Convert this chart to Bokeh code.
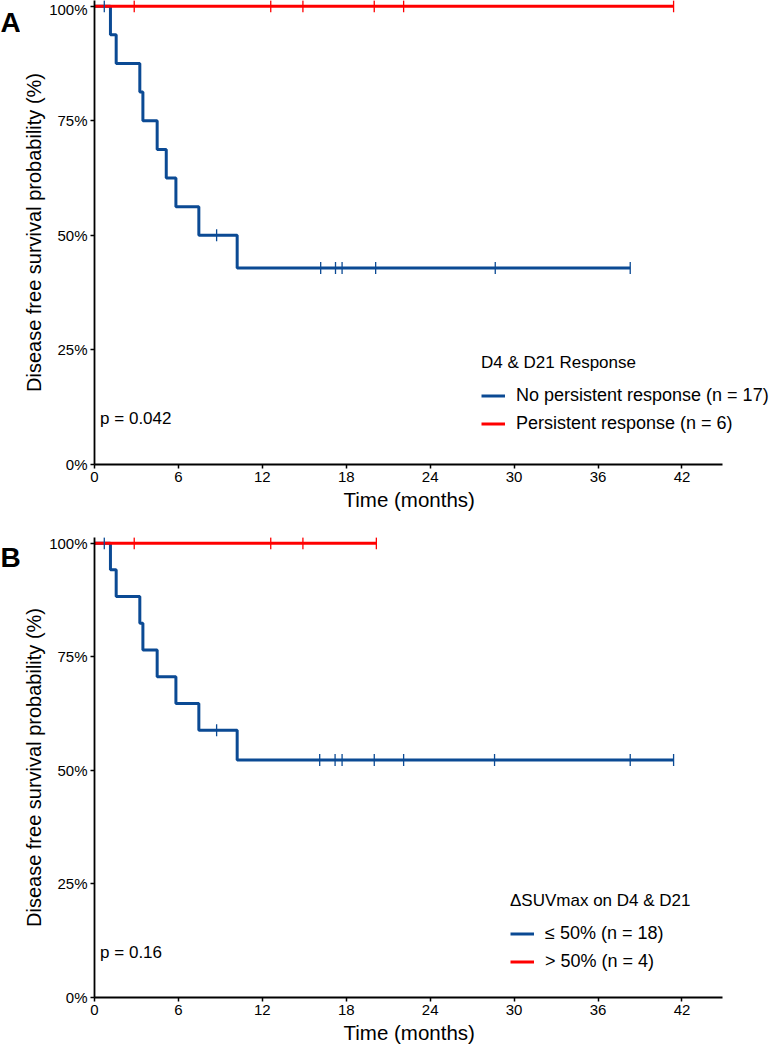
from bokeh.plotting import figure
from bokeh.layouts import column, row
from bokeh.models import (FixedTicker, Legend, LegendItem, Label, Range1d, Title)
from bokeh.embed import file_html
from bokeh.resources import INLINE

# ---------------- data ----------------
x_ticks = [0, 6, 12, 18, 24, 30, 36, 42]
y_ticks = [0, 0.25, 0.5, 0.75, 1.0]
y_tick_labels = ["0%", "25%", "50%", "75%", "100%"]

# Panel A: D4 & D21 Response
a_blue_label = "No persistent response (n = 17)"
a_blue_t = [0, 1.14, 1.55, 3.24, 3.46, 4.48, 5.13, 5.82, 7.46, 10.2, 38.3]
a_blue_s = [1.0, 0.9375, 0.875, 0.8125, 0.75, 0.6875, 0.625, 0.5625, 0.5, 0.4286, 0.4286]
a_blue_cens_t = [0.7, 8.73, 16.17, 17.23, 17.7, 20.1, 28.65, 38.3]
a_blue_cens_s = [1.0, 0.5, 0.4286, 0.4286, 0.4286, 0.4286, 0.4286, 0.4286]

a_red_label = "Persistent response (n = 6)"
a_red_t = [0, 41.4]
a_red_s = [1.0, 1.0]
a_red_cens_t = [2.84, 12.6, 14.9, 20.0, 22.1, 41.4]
a_red_cens_s = [1.0, 1.0, 1.0, 1.0, 1.0, 1.0]
a_title = "D4 & D21 Response"
a_p = "p = 0.042"

# Panel B: ΔSUVmax on D4 & D21
b_blue_label = "≤ 50% (n = 18)"
b_blue_t = [0, 1.14, 1.55, 3.24, 3.46, 4.48, 5.82, 7.46, 10.2, 41.4]
b_blue_s = [1.0, 0.9412, 0.8824, 0.8235, 0.7647, 0.7059, 0.6471, 0.5882, 0.5229, 0.5229]
b_blue_cens_t = [0.7, 8.73, 16.1, 17.2, 17.7, 20.0, 22.1, 28.6, 38.3, 41.4]
b_blue_cens_s = [1.0, 0.5882, 0.5229, 0.5229, 0.5229, 0.5229, 0.5229, 0.5229, 0.5229, 0.5229]

b_red_label = "> 50% (n = 4)"
b_red_t = [0, 20.15]
b_red_s = [1.0, 1.0]
b_red_cens_t = [2.84, 12.6, 14.9, 20.15]
b_red_cens_s = [1.0, 1.0, 1.0, 1.0]
b_title = "ΔSUVmax on D4 & D21"
b_p = "p = 0.16"

x_axis_title = "Time (months)"
y_axis_title = "Disease free survival probability (%)"

BLUE = "#0B4A94"
RED = "#FF0000"
FONT = "Liberation Sans"

LETTER_W = 20
FRAME_W = 677
X_AXIS_END = 44.9      # months at the end of the drawn x axis line
X_VIEW_END = 48.4      # frame continues to the page edge (room for legend)
XTITLE_OFFSET = 249    # px from frame left to the start of the x title


def letter_fig(letter, height, center_from_top):
    f = figure(width=LETTER_W, height=height, x_range=Range1d(0, LETTER_W),
               y_range=Range1d(0, height), output_backend="svg",
               toolbar_location=None, x_axis_location=None,
               y_axis_location=None, min_border=0)
    f.outline_line_color = None
    f.xgrid.visible = False
    f.ygrid.visible = False
    f.add_layout(Label(x=0, y=height - center_from_top, text=letter,
                       text_font=FONT, text_font_size="28px",
                       text_font_style="bold", text_baseline="middle",
                       text_color="black"))
    return f


def make_panel(blue, red, leg_title, ptxt, frame_h, border_top, height,
               leg_loc):
    (bt, bs, bct, bcs, blab) = blue
    (rt, rs, rct, rcs, rlab) = red
    p = figure(frame_width=FRAME_W, frame_height=frame_h,
               x_range=Range1d(0, X_VIEW_END), y_range=Range1d(0, 1.0124),
               output_backend="svg", toolbar_location=None,
               min_border_left=94 - LETTER_W, min_border_right=0,
               min_border_top=border_top,
               min_border_bottom=height - border_top - frame_h)
    p.outline_line_color = None
    p.background_fill_color = "white"
    p.border_fill_color = "white"
    p.xgrid.visible = False
    p.ygrid.visible = False

    for ax in (p.xaxis[0], p.yaxis[0]):
        ax.axis_line_color = "black"
        ax.axis_line_width = 1.8
        ax.major_tick_line_color = "black"
        ax.major_tick_line_width = 1.5
        ax.major_tick_out = 4
        ax.major_tick_in = 0
        ax.minor_tick_line_color = None
        ax.major_label_text_font = FONT
        ax.major_label_text_font_size = "15px"
        ax.major_label_text_color = "black"
        ax.axis_label_text_font = FONT
        ax.axis_label_text_font_size = "20px"
        ax.axis_label_text_font_style = "normal"
        ax.axis_label_text_color = "black"

    p.xaxis.bounds = (0, X_AXIS_END)
    p.xaxis.ticker = FixedTicker(ticks=x_ticks)
    p.yaxis.ticker = FixedTicker(ticks=y_ticks)
    p.yaxis.major_label_overrides = {v: l for v, l in zip(y_ticks, y_tick_labels)}
    p.yaxis.axis_label = y_axis_title
    p.xaxis.major_label_standoff = 3
    p.yaxis.major_label_standoff = 3
    p.yaxis.axis_label_standoff = 1

    # x axis title centred under the drawn axis line (0 .. X_AXIS_END)
    xt = Title(text=x_axis_title, align="left", offset=XTITLE_OFFSET,
               text_font=FONT, text_font_size="20.5px",
               text_font_style="normal", text_color="black", standoff=2)
    p.add_layout(xt, "below")

    bl = p.step(bt, bs, mode="after", line_color=BLUE, line_width=3)
    rl = p.step(rt, rs, mode="after", line_color=RED, line_width=3)
    bc = p.scatter(bct, bcs, marker="dash", angle=1.5708, size=12,
                   line_color=BLUE, line_width=1.3)
    rc = p.scatter(rct, rcs, marker="dash", angle=1.5708, size=12,
                   line_color=RED, line_width=1.3)

    legend = Legend(items=[LegendItem(label=blab, renderers=[bl, bc]),
                           LegendItem(label=rlab, renderers=[rl, rc])],
                    location=leg_loc)
    legend.title = leg_title
    legend.title_text_font = FONT
    legend.title_text_font_size = "17px"
    legend.title_text_font_style = "normal"
    legend.title_text_color = "black"
    legend.title_standoff = 10
    legend.label_text_font = FONT
    legend.label_text_font_size = "18px"
    legend.label_text_color = "black"
    legend.label_standoff = 11
    legend.label_height = 25
    legend.glyph_height = 25
    legend.glyph_width = 24
    legend.spacing = 3
    legend.padding = 0
    legend.margin = 0
    legend.border_line_color = None
    legend.background_fill_alpha = 0
    p.add_layout(legend)

    p.add_layout(Label(x=0.4, y=0.1, text=ptxt, text_font=FONT,
                       text_font_size="17px", text_baseline="middle",
                       text_color="black"))
    return p


HA, HB = 533, 517
pa = make_panel((a_blue_t, a_blue_s, a_blue_cens_t, a_blue_cens_s, a_blue_label),
                (a_red_t, a_red_s, a_red_cens_t, a_red_cens_s, a_red_label),
                a_title, a_p, frame_h=464, border_top=0, height=HA,
                leg_loc=(387, 28))
pb = make_panel((b_blue_t, b_blue_s, b_blue_cens_t, b_blue_cens_s, b_blue_label),
                (b_red_t, b_red_s, b_red_cens_t, b_red_cens_s, b_red_label),
                b_title, b_p, frame_h=460, border_top=4, height=HB,
                leg_loc=(416, 23))

layout = column(row(letter_fig("A", HA, 25), pa, spacing=0),
                row(letter_fig("B", HB, 22), pb, spacing=0),
                spacing=0)
open("out.html", "w").write(file_html(layout, INLINE))
